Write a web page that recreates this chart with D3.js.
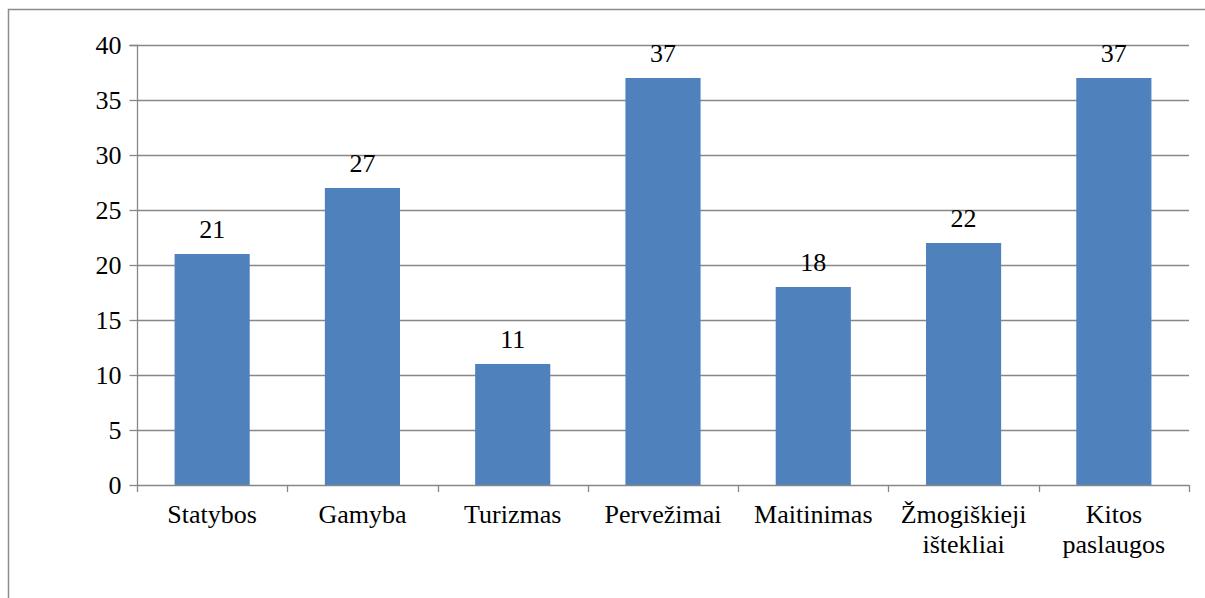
<!DOCTYPE html>
<html><head><meta charset="utf-8">
<script src="https://cdn.jsdelivr.net/npm/d3@7"></script>
<style>body{margin:0;background:#fff}svg{display:block}
svg text{font-family:"Liberation Serif","Times New Roman",serif !important;font-size:26px;fill:#000}</style>
</head><body>
<svg id="c" width="1205" height="598"></svg>
<script>
const categories = ["Statybos","Gamyba","Turizmas","Pervežimai","Maitinimas","Žmogiškieji ištekliai","Kitos paslaugos"];
const values = [21,27,11,37,18,22,37];
const yTicks = [0,5,10,15,20,25,30,35,40];

const svg = d3.select("#c");
const L=137, R=1189, T=45, B=485;
svg.append("path").attr("d","M8.5,600 V9.5 H1210").attr("fill","none").attr("stroke","#8c8c8c").attr("stroke-width",1.5);

const x = d3.scaleBand().domain(categories).range([L,R]).paddingInner(0.5).paddingOuter(0.25);
const y = d3.scaleLinear().domain([0,40]).range([B,T]);

// gridlines
svg.append("g").selectAll("line").data(yTicks.filter(d=>d>0)).join("line")
  .attr("x1",L).attr("x2",R).attr("y1",d=>Math.round(y(d))+0.5).attr("y2",d=>Math.round(y(d))+0.5)
  .attr("stroke","#878787").attr("stroke-width",1.3);

// bars
svg.append("g").selectAll("rect").data(values).join("rect")
  .attr("x",(d,i)=>x(categories[i])).attr("width",x.bandwidth())
  .attr("y",d=>y(d)).attr("height",d=>B-y(d)).attr("fill","#4F81BD");

// y axis
const ya = svg.append("g").attr("transform",`translate(${L+0.5},0)`)
  .call(d3.axisLeft(y).tickValues(yTicks).tickSize(8).tickPadding(8));
ya.attr("font-family",null).attr("font-size",null);
ya.select(".domain").attr("stroke","#878787").attr("stroke-width",1.3).attr("d",`M-8,${T+0.5}H0V${B+0.5}`);
ya.selectAll(".tick line").attr("stroke","#878787").attr("stroke-width",1.3);
ya.selectAll(".tick text").attr("dy","0.34em");
ya.selectAll(".tick").attr("transform",d=>`translate(0,${Math.round(y(d))+0.5})`);

// x axis line and boundary ticks
const xa = svg.append("g");
xa.append("line").attr("x1",L).attr("x2",R).attr("y1",B+0.5).attr("y2",B+0.5).attr("stroke","#878787").attr("stroke-width",1.3);
const bounds = categories.map(c=>x(c)-x.step()*x.paddingInner()/2).concat([R]);
xa.selectAll(".bt").data(bounds).join("line").attr("class","bt")
  .attr("x1",d=>Math.round(d)+0.5).attr("x2",d=>Math.round(d)+0.5).attr("y1",B).attr("y2",B+7)
  .attr("stroke","#878787").attr("stroke-width",1.3);

// category labels
categories.forEach(c=>{
  const lines = c.split(" ");
  const t = svg.append("text").attr("x",x(c)+x.bandwidth()/2).attr("y",523)
    .attr("text-anchor","middle");
  lines.forEach((ln,j)=>t.append("tspan").attr("x",x(c)+x.bandwidth()/2).attr("dy",j?30:0).text(ln));
});

// value labels
svg.append("g").selectAll("text").data(values).join("text")
  .attr("x",(d,i)=>x(categories[i])+x.bandwidth()/2).attr("y",d=>y(d)-16)
  .attr("text-anchor","middle")
  .text(d=>d);
</script>
</body></html>
